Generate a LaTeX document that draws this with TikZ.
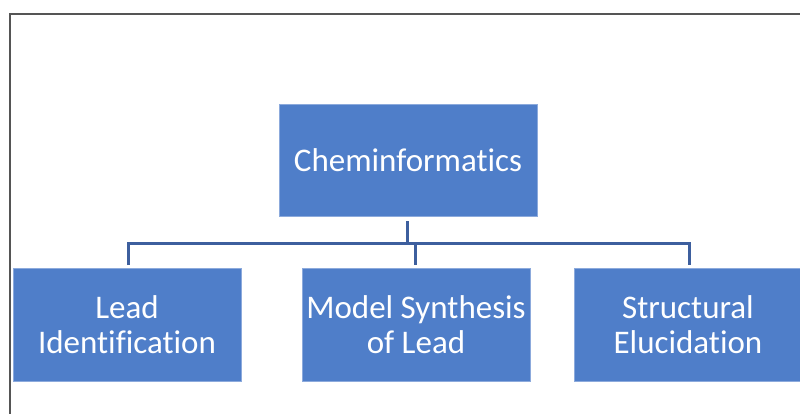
\documentclass[tikz,border=0pt]{standalone}
\usepackage{fontspec}
\setmainfont[Ligatures={NoCommon}]{Carlito}
\definecolor{boxblue}{RGB}{79,126,201}
\definecolor{boxedge}{RGB}{140,170,220}
\definecolor{linkblue}{RGB}{61,95,158}
\definecolor{frame}{RGB}{85,85,85}
\begin{document}
\begin{tikzpicture}[x=1pt,y=-1pt,
  orgbox/.style={draw=boxedge,line width=0.6pt,fill=boxblue,text=white,minimum width=228pt,minimum height=113pt,inner sep=0pt,align=center,font=\fontsize{33}{35}\selectfont},
  topbox/.style={orgbox,minimum width=258pt,minimum height=112pt},
  link/.style={draw=linkblue,line width=3pt}]
\useasboundingbox (0,0) rectangle (800,414);
\fill[white] (0,0) rectangle (800,414);
\draw[frame,line width=1.6pt] (10,414) -- (10,14) -- (800,14);
\node[topbox] (top) at (408,160) {Cheminformatics};
\node[orgbox] (lead) at (127,324.5) {Lead\\Identification};
\node[orgbox] (model) at (416,324.5) {Model Synthesis\\of Lead};
\node[orgbox] (struct) at (688,324.5) {Structural\\Elucidation};
\coordinate (hub) at (407,243);
\draw[link] (407,221) -- (hub);
\draw[link] (128,265) |- (689,243) -- (689,265);
\draw[link] (415,243) -- (415,265);
\end{tikzpicture}
\end{document}
